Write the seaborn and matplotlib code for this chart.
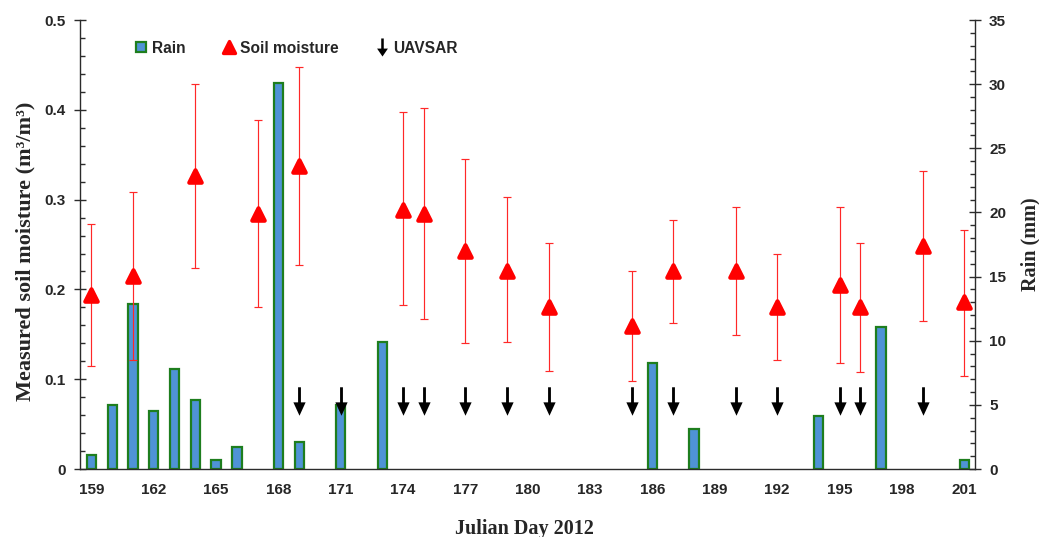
import matplotlib
matplotlib.use("Agg")
import matplotlib.pyplot as plt
from matplotlib.lines import Line2D
from matplotlib.markers import MarkerStyle
from matplotlib.path import Path
from matplotlib.ticker import MultipleLocator
import seaborn as sns

# Rain (mm) per Julian day
rain_days = [159, 160, 161, 162, 163, 164, 165, 166, 168, 169, 171, 173,
             186, 188, 194, 197, 201]
rain_mm = [1.1, 5.0, 12.9, 4.5, 7.8, 5.4, 0.7, 1.7, 30.1, 2.1, 5.0, 9.9,
           8.3, 3.1, 4.1, 11.1, 0.7]

# Measured soil moisture (m3/m3) with min / max range
sm_days = [159, 161, 164, 167, 169, 174, 175, 177, 179, 181, 185, 187,
           190, 192, 195, 196, 199, 201]
sm_mean = [0.194, 0.215, 0.326, 0.284, 0.337, 0.289, 0.284, 0.243, 0.221,
           0.180, 0.159, 0.220, 0.220, 0.180, 0.205, 0.180, 0.248, 0.186]
sm_high = [0.273, 0.309, 0.429, 0.389, 0.448, 0.398, 0.402, 0.345, 0.303,
           0.252, 0.221, 0.277, 0.292, 0.239, 0.292, 0.252, 0.332, 0.266]
sm_low = [0.115, 0.121, 0.224, 0.180, 0.227, 0.183, 0.167, 0.140, 0.142,
          0.109, 0.098, 0.163, 0.149, 0.121, 0.118, 0.108, 0.165, 0.104]

# UAVSAR acquisition days
uav_days = [169, 171, 174, 175, 177, 179, 181, 185, 187, 190, 192, 195,
            196, 199]
arrow_y = 0.0755

sns.set_style("white")
plt.rcParams["font.family"] = ["Liberation Sans", "DejaVu Sans"]

bar_fill = "#4F93D6"
bar_edge = "#1E7E1E"
spine_c = "#2b2b2b"

# down-arrow marker shape
arrow_path = Path([(0.1, 1), (0.1, -0.06), (0.43, -0.06), (0, -1),
                   (-0.43, -0.06), (-0.1, -0.06), (-0.1, 1), (0.1, 1)],
                  closed=True)
legend_arrow = Path([(0.14, 1), (0.14, -0.12), (0.6, -0.12), (0, -1),
                     (-0.6, -0.12), (-0.14, -0.12), (-0.14, 1), (0.14, 1)],
                    closed=True)

fig, ax = plt.subplots(figsize=(10.39, 5.37), dpi=100)
fig.subplots_adjust(left=0.077, right=0.938, bottom=0.1266, top=0.9627)
ax2 = ax.twinx()

# rain bars on the right axis
sns.barplot(x=rain_days, y=rain_mm, native_scale=True, orient="x", ax=ax2,
            width=0.45, color=bar_fill, saturation=1, errorbar=None,
            edgecolor=bar_edge, linewidth=1.6)

# soil moisture with error bars on the left axis
yerr = [[m - lo for m, lo in zip(sm_mean, sm_low)],
        [hi - m for m, hi in zip(sm_mean, sm_high)]]
ax.errorbar(sm_days, sm_mean, yerr=yerr, fmt="none", ecolor="#FF2828",
            elinewidth=0.85, capsize=2.6, capthick=0.85, zorder=2)
sns.scatterplot(x=sm_days, y=sm_mean, ax=ax, marker="^", s=80,
                color="#FF0000", edgecolor="#FF0000", linewidth=3,
                joinstyle="round", zorder=3)

# UAVSAR arrows
sns.scatterplot(x=uav_days, y=[arrow_y] * len(uav_days), ax=ax,
                marker=arrow_path, s=420, color="black", linewidth=0,
                zorder=4)

ax.set_zorder(ax2.get_zorder() + 1)
ax.patch.set_visible(False)

ax.set_xlim(158.45, 201.5)
ax.set_ylim(0, 0.5)
ax2.set_ylim(0, 35)

ax.xaxis.set_major_locator(MultipleLocator(3))
ax.xaxis.set_minor_locator(MultipleLocator(1))
ax.yaxis.set_major_locator(MultipleLocator(0.1))
ax.yaxis.set_minor_locator(MultipleLocator(0.02))
ax2.yaxis.set_major_locator(MultipleLocator(5))
ax2.yaxis.set_minor_locator(MultipleLocator(1))
ax.yaxis.set_major_formatter(plt.FuncFormatter(
    lambda v, p: "0" if v == 0 else f"{v:.1f}"))

ax.tick_params(axis="x", which="both", direction="in", length=4, width=1,
               color=spine_c, pad=10, labelsize=11)
ax.tick_params(axis="y", which="major", direction="inout", length=9,
               width=1, color=spine_c, pad=6, labelsize=11)
ax.tick_params(axis="y", which="minor", direction="in", length=3.5,
               width=1, color=spine_c)
ax2.tick_params(axis="y", which="major", direction="inout", length=9,
                width=1, color=spine_c, pad=6, labelsize=11)
ax2.tick_params(axis="y", which="minor", direction="in", length=3.5,
                width=1, color=spine_c)
for lab in ax.get_xticklabels() + ax.get_yticklabels() + ax2.get_yticklabels():
    lab.set_fontweight("bold")

for a in (ax, ax2):
    a.spines["top"].set_visible(False)
    for s in ("left", "right", "bottom"):
        a.spines[s].set_color(spine_c)
        a.spines[s].set_linewidth(1)
ax2.spines["left"].set_visible(False)
ax2.spines["bottom"].set_visible(False)
ax.spines["right"].set_visible(False)

serif = ["Liberation Serif", "DejaVu Serif"]
ax.set_xlabel("Julian Day 2012", family=serif, fontweight="bold", fontsize=14.5)
ax.set_ylabel("Measured soil moisture (m³/m³)", family=serif,
              fontweight="bold", fontsize=16)
ax2.set_ylabel("Rain (mm)", family=serif, fontweight="bold", fontsize=14.5)
ax.xaxis.set_label_coords(0.497, -0.111)
ax.yaxis.set_label_coords(-0.05, 0.485)
ax2.yaxis.set_label_coords(1.051, 0.5)

# legend
handles = [
    Line2D([], [], ls="none", marker="s", ms=7, mfc=bar_fill, mec=bar_edge,
           mew=1.6),
    Line2D([], [], ls="none", marker=MarkerStyle("^", joinstyle="round"),
           ms=9, mfc="#FF0000", mec="#FF0000", mew=2.4),
    Line2D([], [], ls="none", marker=legend_arrow, ms=13, mfc="black",
           mew=0),
]
leg = ax.legend(handles, ["Rain", "Soil moisture", "UAVSAR"], ncol=3,
                loc="center left", bbox_to_anchor=(0.061, 0.937),
                frameon=False, handlelength=0.8, handletextpad=0.3,
                columnspacing=2.4, borderpad=0, borderaxespad=0,
                prop={"weight": "bold", "size": 11.2})

fig.savefig("out.png", dpi=100)
